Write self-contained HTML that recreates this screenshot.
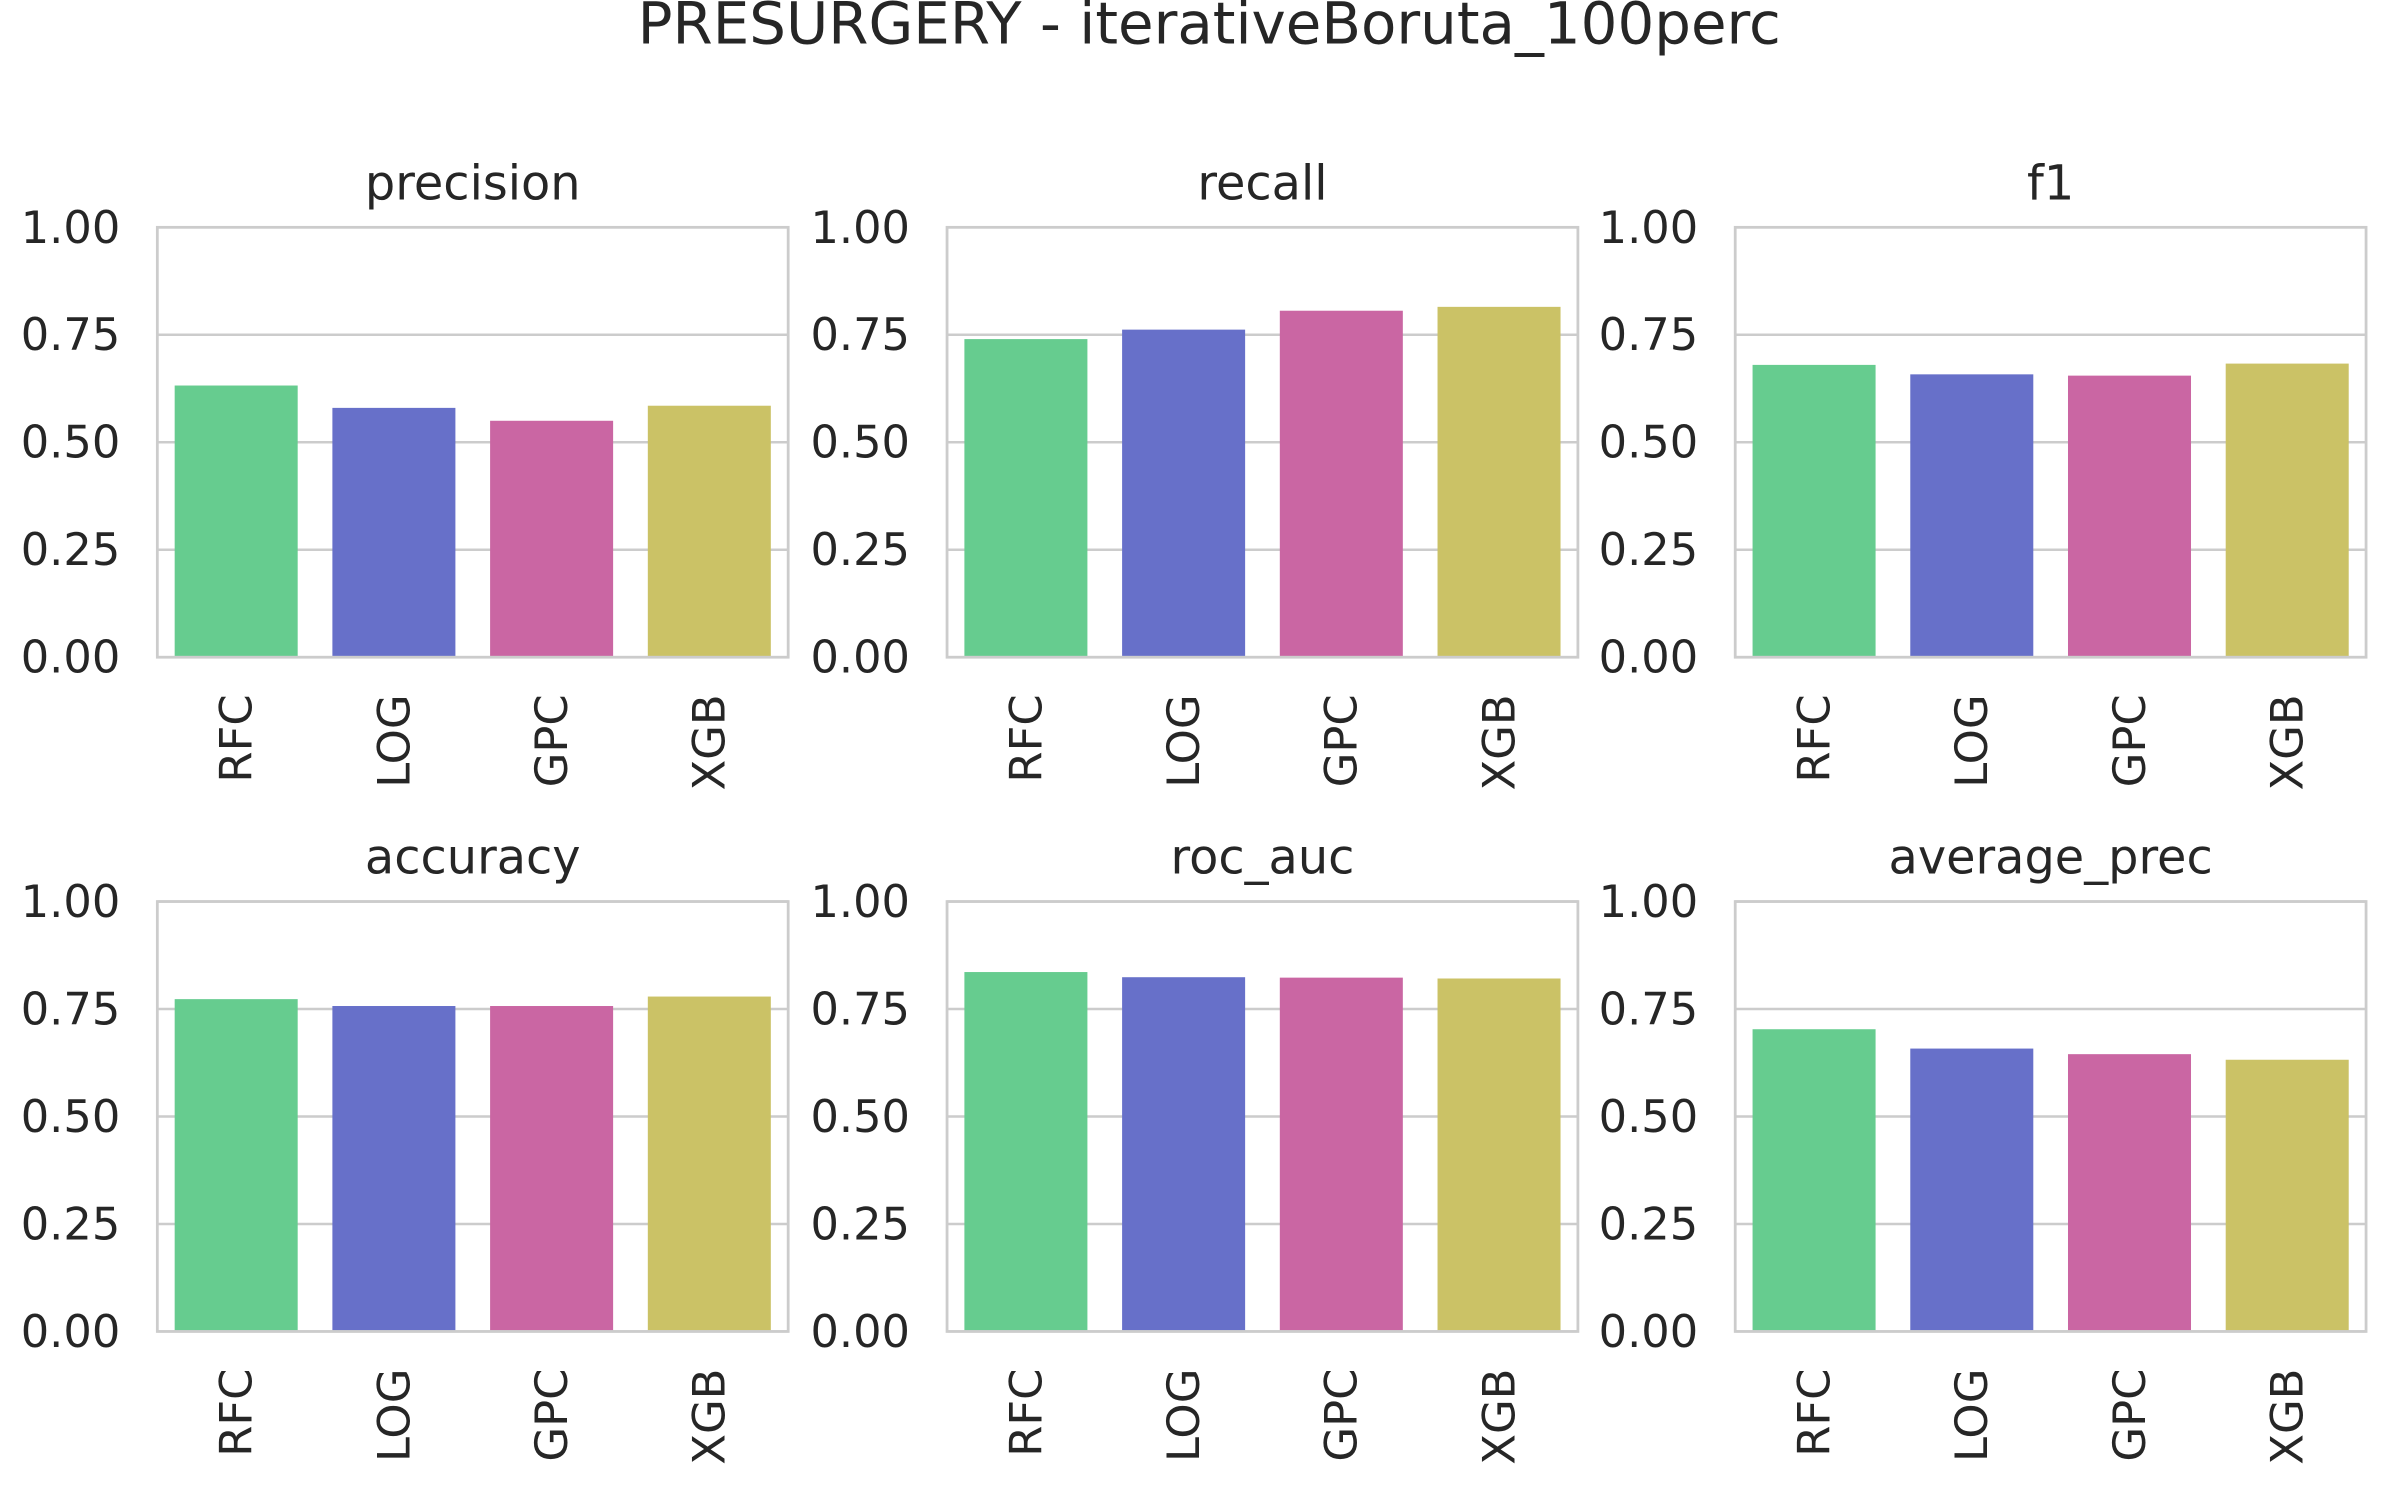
<!DOCTYPE html>
<html><head><meta charset="utf-8">
<style>html,body{margin:0;padding:0;background:#fff}svg{display:block}text{font-family:"DejaVu Sans","Liberation Sans",sans-serif;fill:#262626}</style>
</head><body>
<svg id="chart" width="2400" height="1500" viewBox="0 0 1556 970" preserveAspectRatio="none" xmlns="http://www.w3.org/2000/svg">
<rect width="1556" height="970" fill="#fff"/>
<text x="784" y="28" font-size="37.5" text-anchor="middle">PRESURGERY - iterativeBoruta_100perc</text>
<g id="panels"></g>
</svg>
<script>
const categories = ["RFC","LOG","GPC","XGB"];
const metricNames = ["precision","recall","f1","accuracy","roc_auc","average_prec"];
const precisionVals = [0.632, 0.580, 0.550, 0.585];
const recallVals = [0.740, 0.762, 0.806, 0.815];
const f1Vals = [0.680, 0.658, 0.655, 0.683];
const accuracyVals = [0.773, 0.757, 0.757, 0.779];
const rocAucVals = [0.836, 0.824, 0.823, 0.821];
const avgPrecVals = [0.703, 0.658, 0.645, 0.632];
const tickVals = [0, 0.25, 0.5, 0.75, 1.0];
const tickLabels = ["0.00","0.25","0.50","0.75","1.00"];
const allVals = [precisionVals, recallVals, f1Vals, accuracyVals, rocAucVals, avgPrecVals];
const colors = ["#66cc8f","#6770c9","#ca66a3","#cbc266"];
const colX = [102, 614, 1125], rowY = [147, 583], W = 409, H = 278;
const NS = "http://www.w3.org/2000/svg";
const root = document.getElementById("panels");
function mk(tag, attrs, parent){const e=document.createElementNS(NS,tag);for(const k in attrs)e.setAttribute(k,attrs[k]);parent.appendChild(e);return e;}
allVals.forEach((vals, i) => {
  const x0 = colX[i%3], y0 = rowY[Math.floor(i/3)];
  const yS = v => y0 + H - v*H;
  const xS = j => x0 + (j+0.5)*W/categories.length;
  const g = mk("g", {}, root);
  
  
  tickVals.forEach((t, k) => {
    const ln = mk("line", {x1:x0, x2:x0+W, y1:yS(t), y2:yS(t), stroke:"#cccccc", "stroke-width":1.6}, g);
    
    
    const tx = mk("text", {x:x0-24, y:yS(t)+10, "font-size":29, "text-anchor":"end"}, g);
    tx.textContent = tickLabels[k];
    
    
  });
  const bw = W/categories.length*0.78;
  vals.forEach((v, j) => {
    const r = mk("rect", {x:xS(j)-bw/2, y:yS(v), width:bw, height:v*H, fill:colors[j]}, g);
    
    
    const lx = xS(j)+10, ly = y0 + H + 24;
    const tx = mk("text", {x:lx, y:ly, "font-size":29, "text-anchor":"end", transform:`rotate(-90 ${lx} ${ly})`}, g);
    tx.textContent = categories[j];
    
    
  });
  const fr = mk("rect", {x:x0, y:y0, width:W, height:H, fill:"none", stroke:"#cccccc", "stroke-width":1.8}, g);
  
  
  const st = mk("text", {x:x0+W/2, y:y0-18, "font-size":31, "text-anchor":"middle"}, g);
  st.textContent = metricNames[i];
  
  
});
</script>
</body></html>
